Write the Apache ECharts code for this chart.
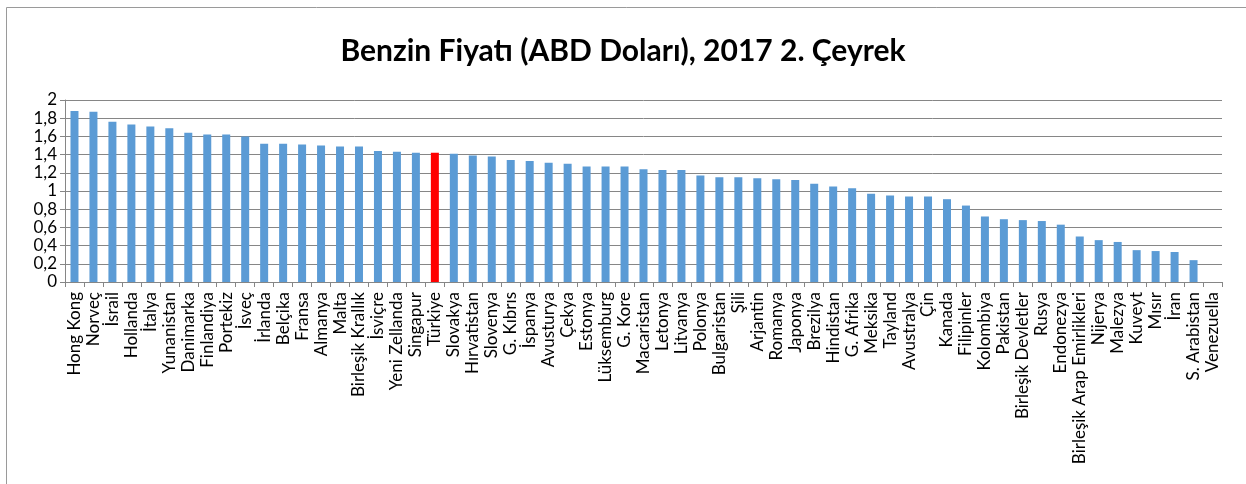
<!DOCTYPE html>
<html lang="tr">
<head>
    <meta charset="UTF-8">
    <title>Benzin Fiyatı</title>
    <script src="https://cdn.jsdelivr.net/npm/echarts@6/dist/echarts.min.js"></script>
    <style>
        html, body { margin: 0; padding: 0; background: #fff; }
        #chart { width: 1246px; height: 484px; }
    </style>
</head>
<body>
    <div id="chart"></div>
    <script>
        var titleText = 'Benzin Fiyatı (ABD Doları), 2017 2. Çeyrek';
        var highlight = 'Türkiye';

        var countries = ['Hong Kong', 'Norveç', 'İsrail', 'Hollanda', 'İtalya', 'Yunanistan', 'Danimarka',
            'Finlandiya', 'Portekiz', 'İsveç', 'İrlanda', 'Belçika', 'Fransa', 'Almanya', 'Malta',
            'Birleşik Krallık', 'İsviçre', 'Yeni Zellanda', 'Singapur', 'Türkiye', 'Slovakya', 'Hırvatistan',
            'Slovenya', 'G. Kıbrıs', 'İspanya', 'Avusturya', 'Çekya', 'Estonya', 'Lüksemburg', 'G. Kore',
            'Macaristan', 'Letonya', 'Litvanya', 'Polonya', 'Bulgaristan', 'Şili', 'Arjantin', 'Romanya',
            'Japonya', 'Brezilya', 'Hindistan', 'G. Afrika', 'Meksika', 'Tayland', 'Avustralya', 'Çin',
            'Kanada', 'Filipinler', 'Kolombiya', 'Pakistan', 'Birleşik Devletler', 'Rusya', 'Endonezya',
            'Birleşik Arap Emirlikleri', 'Nijerya', 'Malezya', 'Kuveyt', 'Mısır', 'İran', 'S. Arabistan',
            'Venezuella'];

        var prices = [1.88, 1.87, 1.76, 1.73, 1.71, 1.69, 1.64,
            1.62, 1.62, 1.60, 1.52, 1.52, 1.51, 1.50, 1.49,
            1.49, 1.44, 1.43, 1.42, 1.42, 1.41, 1.39,
            1.38, 1.34, 1.33, 1.31, 1.30, 1.27, 1.27, 1.27,
            1.24, 1.23, 1.23, 1.17, 1.15, 1.15, 1.14, 1.13,
            1.12, 1.08, 1.05, 1.03, 0.97, 0.95, 0.94, 0.94,
            0.91, 0.84, 0.72, 0.69, 0.68, 0.67, 0.63,
            0.50, 0.46, 0.44, 0.35, 0.34, 0.33, 0.24,
            0];

        var yTicks = [0, 0.2, 0.4, 0.6, 0.8, 1, 1.2, 1.4, 1.6, 1.8, 2];

        var chart = echarts.init(document.getElementById('chart'), null, { renderer: 'canvas' });

        var option = {
            animation: false,
            textStyle: { fontFamily: 'Lato' },
            graphic: [{
                type: 'rect',
                shape: { x: 6.5, y: 7.5, width: 1400, height: 600 },
                style: { fill: null, stroke: '#9a9a9a', lineWidth: 1 },
                silent: true
            }],
            title: {
                text: titleText,
                left: 'center',
                top: 31,
                textStyle: { fontFamily: 'Lato', fontWeight: 'bold', fontSize: 30, color: '#000' }
            },
            grid: { left: 65, right: 24, top: 100, bottom: 202, containLabel: false },
            xAxis: {
                type: 'category',
                data: countries,
                axisLine: { lineStyle: { color: '#868686', width: 1 } },
                axisTick: { show: true, length: 5, lineStyle: { color: '#868686' } },
                axisLabel: {
                    interval: 0,
                    rotate: 90,
                    margin: 10,
                    color: '#000',
                    fontSize: 17,
                    fontFamily: 'Lato'
                }
            },
            yAxis: {
                type: 'value',
                min: 0,
                max: 2,
                interval: 0.2,
                axisLine: { show: true, lineStyle: { color: '#868686', width: 1 } },
                axisTick: { show: true, length: 5, lineStyle: { color: '#868686' } },
                splitLine: { lineStyle: { color: '#868686', width: 1 } },
                axisLabel: {
                    color: '#000',
                    fontSize: 17,
                    fontFamily: 'Lato',
                    margin: 8,
                    formatter: function (v) {
                        var t = yTicks.find(function (x) { return Math.abs(x - v) < 1e-6; });
                        return String(t === undefined ? v : t).replace('.', ',');
                    }
                }
            },
            series: [{
                type: 'bar',
                barWidth: 8,
                data: prices.map(function (v, i) {
                    return {
                        value: v,
                        itemStyle: { color: countries[i] === highlight ? '#ff0000' : '#5b9bd5' }
                    };
                })
            }]
        };
        chart.setOption(option);
    </script>
</body>
</html>
